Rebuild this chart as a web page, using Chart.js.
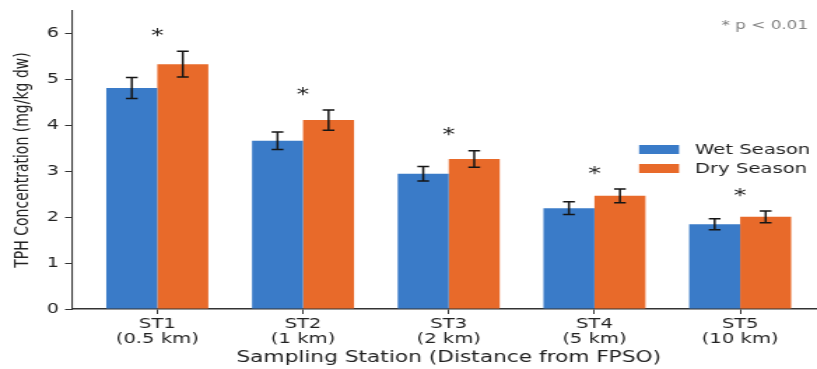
<!DOCTYPE html>
<html><head><meta charset="utf-8">
<script src="https://cdn.jsdelivr.net/npm/chart.js@4/dist/chart.umd.min.js"></script>
<style>
html,body{margin:0;padding:0;background:#fff;overflow:hidden;width:817px;height:369px;}
#wrap{position:absolute;left:0;top:0;width:594px;height:369px;transform-origin:0 0;}
canvas{display:block;}
</style></head><body>
<div id="wrap"><canvas id="c" width="594" height="369"></canvas></div>
<script>
// ---- data ----
const stations = ['ST1', 'ST2', 'ST3', 'ST4', 'ST5'];
const distances = ['(0.5 km)', '(1 km)', '(2 km)', '(5 km)', '(10 km)'];
const wetMean = [4.82, 3.67, 2.95, 2.20, 1.85];
const wetErr  = [0.23, 0.19, 0.16, 0.14, 0.12];
const dryMean = [5.34, 4.12, 3.27, 2.47, 2.01];
const dryErr  = [0.28, 0.22, 0.18, 0.15, 0.13];
const significant = [true, true, true, true, true];
const yTicks = [0, 1, 2, 3, 4, 5, 6];
const seriesLabels = ['Wet Season', 'Dry Season'];
const noteText = '* p < 0.01';

// ---- styling ----
const SX = 817 / 584; // horizontal stretch of the reference image
document.getElementById('wrap').style.transform = 'scaleX(' + SX + ')';
const FONT = "'DejaVu Sans', sans-serif";
const BLUE = '#3a7bc8', ORANGE = '#e86a2a';

const overlay = {
  id: 'overlay',
  afterDatasetsDraw(chart) {
    const { ctx, scales: { x, y } } = chart;
    ctx.save();
    // error bars
    ctx.strokeStyle = '#151515';
    ctx.lineWidth = 1.5;
    chart.data.datasets.forEach((ds, di) => {
      const meta = chart.getDatasetMeta(di);
      meta.data.forEach((bar, j) => {
        const v = ds.data[j].y, e = ds.err[j];
        const yt = y.getPixelForValue(v + e), yb = y.getPixelForValue(v - e);
        const cx = bar.x;
        ctx.beginPath();
        ctx.moveTo(cx, yt); ctx.lineTo(cx, yb);
        ctx.moveTo(cx - 4.2, yt); ctx.lineTo(cx + 4.2, yt);
        ctx.moveTo(cx - 4.2, yb); ctx.lineTo(cx + 4.2, yb);
        ctx.stroke();
      });
    });
    // significance stars
    ctx.fillStyle = '#222';
    ctx.font = '18px ' + FONT;
    ctx.textAlign = 'center';
    ctx.textBaseline = 'alphabetic';
    stations.forEach((s, j) => {
      if (!significant[j]) return;
      const top = Math.max(wetMean[j] + wetErr[j], dryMean[j] + dryErr[j]) + 0.4;
      ctx.fillText('*', x.getPixelForValue(j), y.getPixelForValue(top) + 8);
    });
    // legend
    const lx = 456.8, lw = 28.6, tx = 496.8;
    const rows = [{ top: 145, base: 154.3 }, { top: 164, base: 173.3 }];
    ctx.font = '14px ' + FONT;
    ctx.textAlign = 'left';
    chart.data.datasets.forEach((ds, di) => {
      ctx.fillStyle = ds.backgroundColor;
      ctx.fillRect(lx, rows[di].top, lw, 9);
      ctx.fillStyle = '#222';
      ctx.fillText(ds.label, tx, rows[di].base);
    });
    // note
    ctx.font = '12px ' + FONT;
    ctx.fillStyle = '#808080';
    ctx.textAlign = 'right';
    ctx.fillText(noteText, 577.6, 28.5);
    ctx.restore();
  }
};

new Chart(document.getElementById('c'), {
  type: 'bar',
  data: {
    datasets: [
      { label: seriesLabels[0], data: wetMean.map((v, i) => ({ x: i, y: v })), err: wetErr, backgroundColor: BLUE, borderWidth: 0 },
      { label: seriesLabels[1], data: dryMean.map((v, i) => ({ x: i, y: v })), err: dryErr, backgroundColor: ORANGE, borderWidth: 0 }
    ]
  },
  options: {
    responsive: false,
    animation: false,
    devicePixelRatio: 1,
    categoryPercentage: 0.7,
    barPercentage: 1.0,
    layout: { padding: { top: 11, left: 0, right: 4, bottom: 0 } },
    plugins: { legend: { display: false }, title: { display: false }, tooltip: { enabled: false } },
    scales: {
      x: {
        type: 'linear', min: -0.585, max: 4.585, offset: false,
        afterBuildTicks: s => { s.ticks = stations.map((_, i) => ({ value: i })); },
        afterFit: s => { s.height = 60; s.paddingLeft = 0; s.paddingRight = 0; s.paddingTop = 0; s.paddingBottom = 0; },
        ticks: {
          callback: v => { const i = Math.round(v); return [stations[i], distances[i]]; },
          font: { family: FONT, size: 14, lineHeight: '14.5px' }, color: '#222', padding: 3.5,
          maxRotation: 0, autoSkip: false
        },
        grid: { offset: false, drawOnChartArea: false, drawTicks: true, tickLength: 5, color: '#333', tickWidth: 1 },
        border: { display: true, color: '#333', width: 1.5 },
        title: { display: true, text: 'Sampling Station (Distance from FPSO)', font: { family: FONT, size: 15.5, lineHeight: 1.2 }, color: '#222', padding: { top: 0, bottom: 2 } }
      },
      y: {
        min: 0, max: 6.5,
        afterBuildTicks: s => { s.ticks = yTicks.map(v => ({ value: v })); },
        afterFit: s => { s.width = 51.5; s.paddingTop = 0; s.paddingBottom = 0; s.paddingLeft = 0; s.paddingRight = 0; },
        ticks: { font: { family: FONT, size: 13.5 }, color: '#222', padding: 4.5 },
        grid: { drawOnChartArea: false, drawTicks: true, tickLength: 5, color: '#333' },
        border: { display: true, color: '#333', width: 1.1 },
        title: { display: true, text: 'TPH Concentration (mg/kg dw)', font: { family: FONT, size: 14, lineHeight: 1.2 }, color: '#222', padding: { top: 8, bottom: 0 } }
      }
    }
  },
  plugins: [overlay]
});
</script>
</body></html>
